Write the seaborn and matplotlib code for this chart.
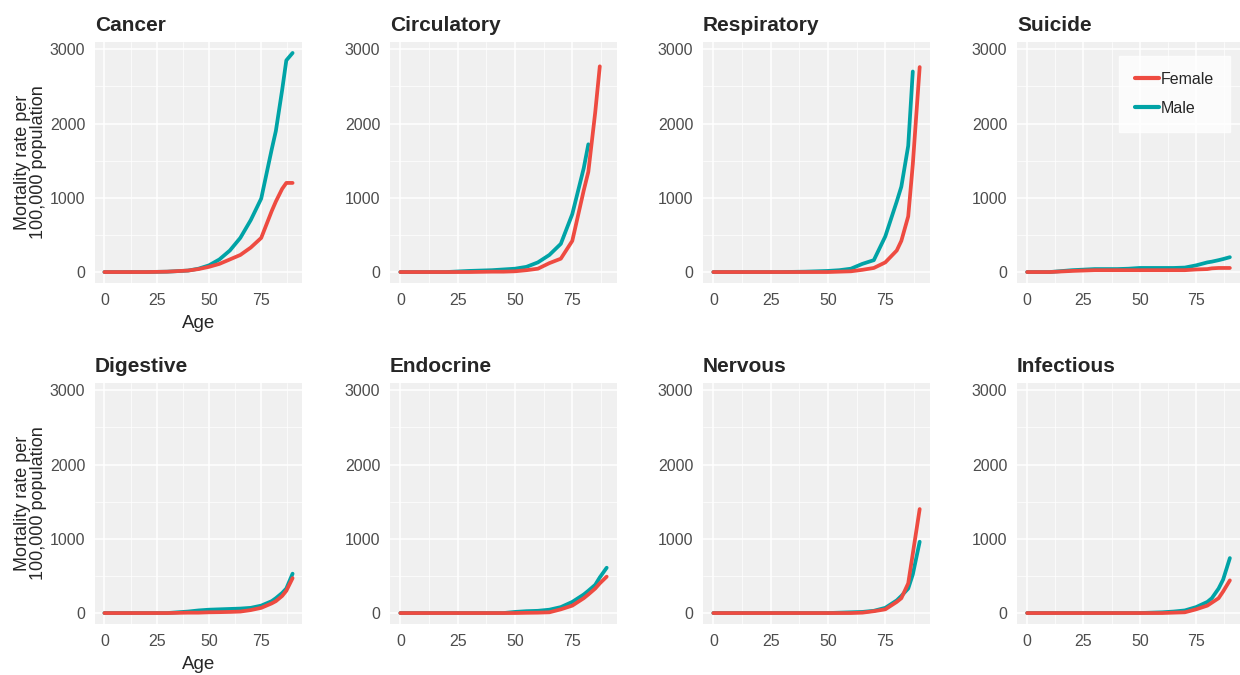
import numpy as np
import pandas as pd
import seaborn as sns
import matplotlib
matplotlib.use("Agg")
import matplotlib.pyplot as plt
from matplotlib.lines import Line2D

nan = np.nan

AGES = [0, 10, 20, 30, 40, 45, 50, 55, 60, 65, 70, 75, 80, 82, 85, 87, 90]

cancer_female = [0, 0, 0, 5, 20, 40, 70, 110, 170, 230, 330, 460, 820, 950, 1120, 1200, 1200]
cancer_male = [0, 0, 0, 5, 20, 45, 90, 170, 290, 460, 700, 990, 1650, 1900, 2450, 2850, 2950]

circulatory_female = [0, 0, 0, 0, 5, 5, 10, 25, 45, 120, 180, 420, 1100, 1350, 2150, 2770, nan]
circulatory_male = [0, 0, 0, 15, 25, 35, 45, 70, 130, 230, 380, 780, 1400, 1720, nan, nan, nan]

respiratory_female = [0, 0, 0, 0, 0, 0, 0, 5, 10, 30, 55, 130, 290, 420, 750, 1450, 2760]
respiratory_male = [0, 0, 0, 0, 5, 10, 15, 25, 45, 110, 160, 480, 950, 1150, 1700, 2700, nan]

suicide_female = [0, 0, 15, 25, 25, 25, 25, 25, 25, 25, 25, 35, 40, 50, 55, 55, 55]
suicide_male = [0, 0, 25, 40, 40, 45, 55, 55, 55, 55, 60, 90, 130, 140, 160, 175, 200]

digestive_female = [0, 0, 0, 0, 5, 5, 10, 12, 15, 20, 40, 70, 130, 160, 230, 300, 470]
digestive_male = [0, 0, 0, 0, 20, 35, 45, 50, 55, 60, 70, 100, 160, 200, 270, 330, 530]

endocrine_female = [0, 0, 0, 0, 0, 0, 0, 3, 5, 10, 50, 100, 200, 250, 330, 400, 490]
endocrine_male = [0, 0, 0, 0, 0, 0, 15, 25, 30, 45, 80, 150, 250, 300, 380, 480, 610]

nervous_female = [0, 0, 0, 0, 0, 0, 0, 0, 0, 5, 25, 50, 150, 200, 400, 800, 1400]
nervous_male = [0, 0, 0, 0, 0, 0, 0, 5, 10, 15, 30, 70, 170, 230, 330, 520, 960]

infectious_female = [0, 0, 0, 0, 0, 0, 0, 0, 0, 5, 10, 50, 100, 140, 200, 290, 440]
infectious_male = [0, 0, 0, 0, 0, 0, 0, 5, 10, 20, 35, 80, 150, 200, 330, 450, 740]

CAUSES = ["Cancer", "Circulatory", "Respiratory", "Suicide",
          "Digestive", "Endocrine", "Nervous", "Infectious"]
FEMALE = [cancer_female, circulatory_female, respiratory_female, suicide_female,
          digestive_female, endocrine_female, nervous_female, infectious_female]
MALE = [cancer_male, circulatory_male, respiratory_male, suicide_male,
        digestive_male, endocrine_male, nervous_male, infectious_male]

SEX_COLORS = {"Female": "#EE4B41", "Male": "#00A3A6"}

rows = []
for cause, f_vals, m_vals in zip(CAUSES, FEMALE, MALE):
    for sex, vals in [("Male", m_vals), ("Female", f_vals)]:
        for a, v in zip(AGES, vals):
            rows.append({"Cause": cause, "Sex": sex, "Age": a, "Rate": v})
df = pd.DataFrame(rows).dropna()

sns.set_theme(style="darkgrid")
plt.rcParams["font.family"] = ["Liberation Sans", "DejaVu Sans"]
plt.rcParams["axes.facecolor"] = "#F0F0F0"

fig = plt.figure(figsize=(12.4, 6.75), dpi=100)
W, H = 1240.0, 675.0
col_px = [(95, 302), (390, 617), (703, 930), (1017, 1240)]
row_px = [(42, 283), (383, 624)]

for i, cause in enumerate(CAUSES):
    r, c = divmod(i, 4)
    x0, x1 = col_px[c]
    y0, y1 = row_px[r]
    ax = fig.add_axes([x0 / W, 1 - y1 / H, (x1 - x0) / W, (y1 - y0) / H])
    sub = df[df["Cause"] == cause]
    sns.lineplot(data=sub, x="Age", y="Rate", hue="Sex", hue_order=["Male", "Female"],
                 palette=SEX_COLORS, linewidth=2.7, errorbar=None, legend=False, ax=ax)
    ax.set_xlim(-4.5, 94.5)
    ax.set_ylim(-147.5, 3097.5)
    ax.set_xticks([0, 25, 50, 75])
    ax.set_yticks([0, 1000, 2000, 3000])
    ax.set_xticks([12.5, 37.5, 62.5, 87.5], minor=True)
    ax.set_yticks([500, 1500, 2500], minor=True)
    ax.grid(which="major", color="white", linewidth=1.1)
    ax.grid(which="minor", color="white", linewidth=0.5)
    ax.tick_params(which="major", length=4, width=1, color="#333333",
                   labelsize=11.5, labelcolor="#4D4D4D", pad=3)
    ax.tick_params(which="minor", length=0)
    for s in ax.spines.values():
        s.set_visible(False)
    ax.set_title(cause, loc="left", fontsize=15, fontweight="bold", pad=8)
    if c == 0:
        ax.set_ylabel("Mortality rate per\n100,000 population", fontsize=13,
                      linespacing=0.95, labelpad=2)
        ax.set_xlabel("Age", fontsize=13.5, labelpad=5)
    else:
        ax.set_ylabel("")
        ax.set_xlabel("")
    if cause == "Suicide":
        handles = [Line2D([], [], color=SEX_COLORS["Female"], linewidth=3),
                   Line2D([], [], color=SEX_COLORS["Male"], linewidth=3)]
        leg = ax.legend(handles, ["Female", "Male"], loc="upper right",
                        bbox_to_anchor=(0.99, 0.975), frameon=True, fontsize=11.5,
                        handlelength=1.5, handletextpad=0.1, labelspacing=0.85,
                        borderpad=1.0, fancybox=False)
        leg.get_frame().set_facecolor("white")
        leg.get_frame().set_edgecolor("white")

fig.savefig("out.png", dpi=100, facecolor="white")
